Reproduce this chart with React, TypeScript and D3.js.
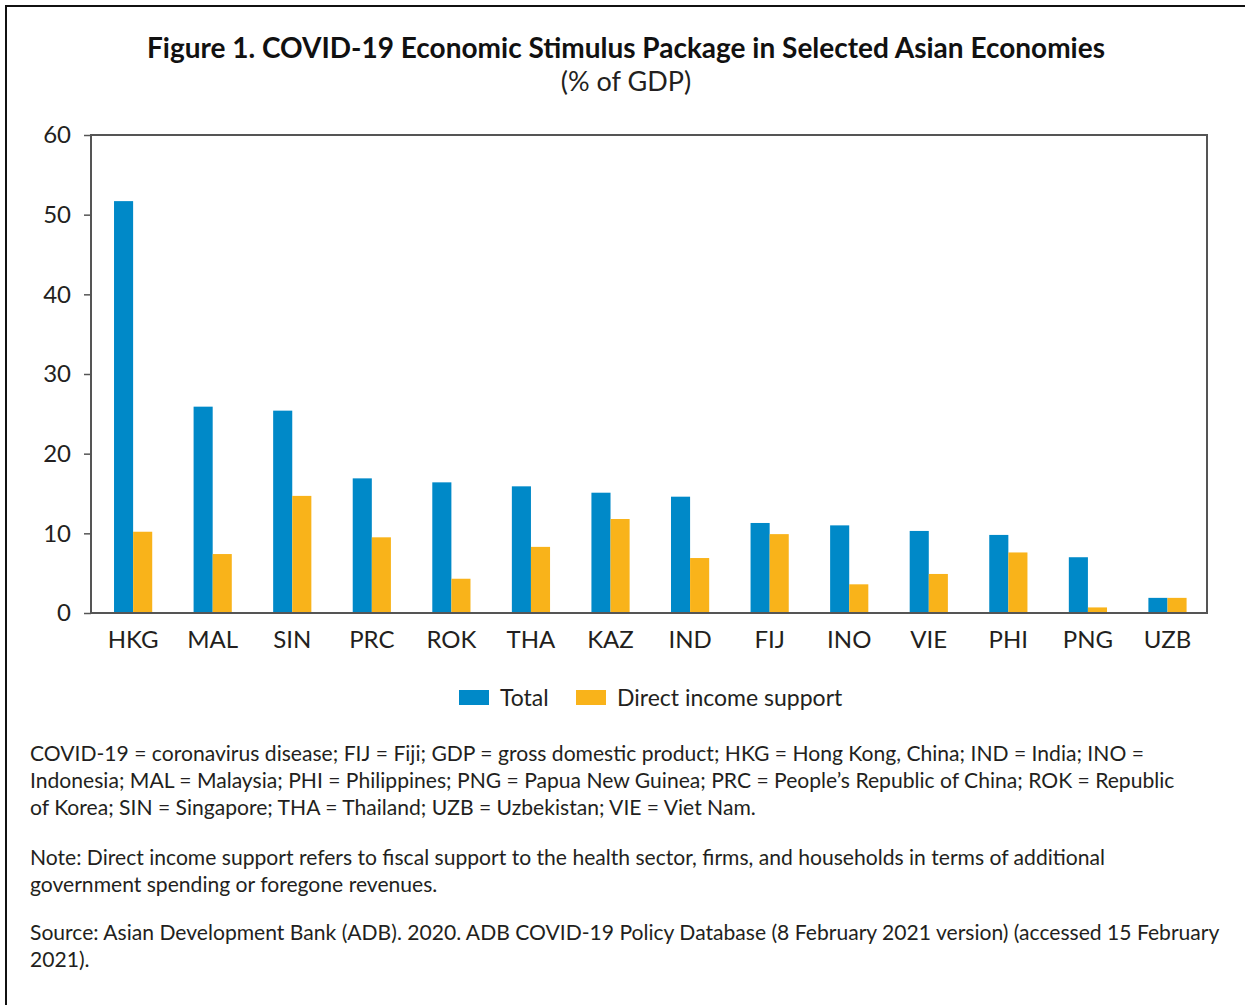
import React, { useEffect, useRef } from "react";
import * as d3 from "d3";

const categories = ["HKG", "MAL", "SIN", "PRC", "ROK", "THA", "KAZ", "IND", "FIJ", "INO", "VIE", "PHI", "PNG", "UZB"];
const totalValues = [51.7, 25.9, 25.4, 16.9, 16.4, 15.9, 15.1, 14.6, 11.3, 11.0, 10.3, 9.8, 7.0, 1.9];
const directValues = [10.2, 7.4, 14.7, 9.5, 4.3, 8.3, 11.8, 6.9, 9.9, 3.6, 4.9, 7.6, 0.7, 1.9];
const seriesNames = ["Total", "Direct income support"];
const yTicks = [0, 10, 20, 30, 40, 50, 60];

const title = "Figure 1. COVID-19 Economic Stimulus Package in Selected Asian Economies";
const subtitle = "(% of GDP)";
const notes = [
  [
    "COVID-19 = coronavirus disease; FIJ = Fiji; GDP = gross domestic product; HKG = Hong Kong, China; IND = India; INO =",
    "Indonesia; MAL = Malaysia; PHI = Philippines; PNG = Papua New Guinea; PRC = People\u2019s Republic of China; ROK = Republic",
    "of Korea; SIN = Singapore; THA = Thailand; UZB = Uzbekistan; VIE = Viet Nam.",
  ],
  [
    "Note: Direct income support refers to fiscal support to the health sector, firms, and households in terms of additional",
    "government spending or foregone revenues.",
  ],
  [
    "Source: Asian Development Bank (ADB). 2020. ADB COVID-19 Policy Database (8 February 2021 version) (accessed 15 February",
    "2021).",
  ],
];

const colors = ["#0089c8", "#f9b31a"];
const font = "Lato, 'Open Sans', sans-serif";

export default function App() {
  const ref = useRef<SVGSVGElement>(null);

  useEffect(() => {
    const width = 1245;
    const height = 1005;
    const svg = d3.select(ref.current).attr("width", width).attr("height", height);
    svg.selectAll("*").remove();

    svg.append("rect").attr("width", width).attr("height", height).attr("fill", "#fff");

    // outer frame (runs off the right and bottom)
    svg.append("rect")
      .attr("x", 6).attr("y", 6)
      .attr("width", width + 20).attr("height", height + 20)
      .attr("fill", "none").attr("stroke", "#111").attr("stroke-width", 2);

    svg.append("text")
      .attr("x", 626).attr("y", 58)
      .attr("text-anchor", "middle")
      .attr("font-family", font).attr("font-weight", 700).attr("font-size", 28)
      .attr("fill", "#111")
      .text(title);
    svg.append("text")
      .attr("x", 626).attr("y", 91)
      .attr("text-anchor", "middle")
      .attr("font-family", font).attr("font-size", 27)
      .attr("fill", "#231f20")
      .text(subtitle);

    const m = { left: 91, right: 1207, top: 135, bottom: 613 };

    const x = d3.scaleBand().domain(categories).range([m.left, m.right])
      .paddingInner(0.52).paddingOuter(0.273).align(0.53);
    const xs = d3.scaleBand().domain(seriesNames).range([0, x.bandwidth()]);
    const y = d3.scaleLinear().domain([0, 60]).range([m.bottom, m.top]);

    const g = svg.append("g");

    const series = [totalValues, directValues];
    series.forEach((vals, si) => {
      g.selectAll(null)
        .data(categories)
        .enter()
        .append("rect")
        .attr("x", (c) => (x(c) as number) + (xs(seriesNames[si]) as number))
        .attr("y", (_, i) => y(vals[i]))
        .attr("width", xs.bandwidth())
        .attr("height", (_, i) => y(0) - y(vals[i]))
        .attr("fill", colors[si]);
    });

    // plot frame
    g.append("rect")
      .attr("x", m.left).attr("y", m.top)
      .attr("width", m.right - m.left).attr("height", m.bottom - m.top)
      .attr("fill", "none").attr("stroke", "#555").attr("stroke-width", 2);

    const yAxis = g.append("g")
      .attr("transform", `translate(${m.left},0)`)
      .call(d3.axisLeft(y).tickValues(yTicks).tickSize(7).tickPadding(13));
    yAxis.select(".domain").remove();
    yAxis.selectAll("line").attr("stroke", "#555").attr("stroke-width", 1.5);
    yAxis.selectAll("text")
      .attr("font-family", font).attr("font-size", 24).attr("fill", "#231f20");

    const xAxis = g.append("g")
      .attr("transform", `translate(0,${m.bottom})`)
      .call(d3.axisBottom(x).tickSize(0).tickPadding(18));
    xAxis.select(".domain").remove();
    xAxis.selectAll("text")
      .attr("font-family", font).attr("font-size", 24).attr("fill", "#231f20");

    // legend
    const legend = svg.append("g").attr("font-family", font).attr("font-size", 23).attr("fill", "#231f20");
    const legendX = [459, 576];
    seriesNames.forEach((name, i) => {
      legend.append("rect").attr("x", legendX[i]).attr("y", 690).attr("width", 30).attr("height", 15).attr("fill", colors[i]);
      legend.append("text").attr("x", legendX[i] + 41).attr("y", 706).text(name);
    });

    // notes
    const noteStarts = [761, 865, 940];
    const notesG = svg.append("g").attr("font-family", font).attr("font-size", 21.1).attr("fill", "#231f20");
    notes.forEach((block, bi) => {
      block.forEach((line, li) => {
        notesG.append("text").attr("x", 30).attr("y", noteStarts[bi] + li * 27).text(line);
      });
    });
  }, []);

  return <svg ref={ref} style={{ position: "absolute", left: 0, top: 0, display: "block" }}></svg>;
}
